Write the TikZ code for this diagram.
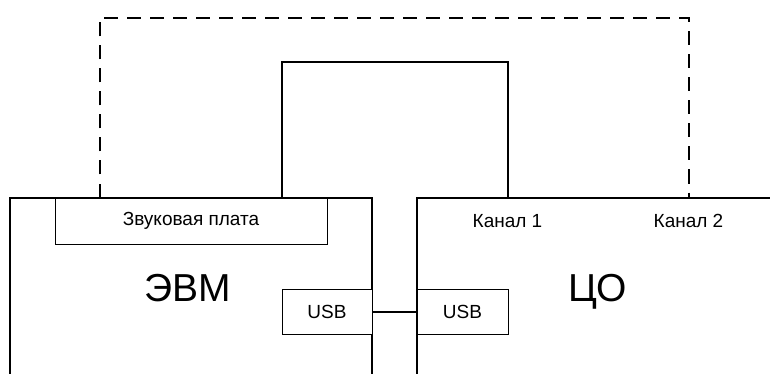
\documentclass[tikz,border=0pt]{standalone}
\usepackage{fontspec}
\setmainfont{Liberation Sans}
\begin{document}
\begin{tikzpicture}[x=1pt,y=-1pt,
  mainbox/.style={draw, line width=1.6pt, inner sep=0pt, rectangle},
  subbox/.style={draw, line width=1pt, inner sep=0pt, rectangle, fill=white, font=\fontsize{19}{22}\selectfont},
  small/.style={font=\fontsize{19}{22}\selectfont, inner sep=0pt, anchor=base},
  big/.style={font=\fontsize{39}{44}\selectfont, inner sep=0pt, anchor=base},
  wire/.style={line width=2pt},
  dwire/.style={line width=2pt, dash pattern=on 14pt off 9pt}]
\useasboundingbox (0,0) rectangle (770,374);
\clip (0,0) rectangle (770,374);
\node[mainbox, minimum width=362pt, minimum height=182pt] (evm) at (191,289) {};
\node[mainbox, minimum width=383pt, minimum height=182pt] (co) at (608.5,289) {};
\node[subbox, minimum width=272pt, minimum height=46pt] (snd) at (191,221) {Звуковая плата};
\node[subbox, minimum width=90pt, minimum height=45pt] (usbA) at (327,311.5) {USB};
\node[subbox, minimum width=91pt, minimum height=45pt] (usbB) at (462.5,311.5) {USB};
\node[big] (evmlabel) at (187.5,301) {ЭВМ};
\node[big] (colabel) at (598,301) {ЦО};
\node[small] (k1) at (507.5,227) {Канал 1};
\node[small] (k2) at (688.5,227) {Канал 2};
\coordinate (t1) at (0,62);
\coordinate (t2) at (0,18);
\draw[wire] (usbA.east) -- (usbB.west);
\draw[wire] (snd.north -| usbA.west) |- (t1 -| k1) -- (co.north -| k1);
\draw[dwire] ([xshift=45pt]snd.north west) |- (t2 -| k2) -- (co.north -| k2);
\end{tikzpicture}
\end{document}
